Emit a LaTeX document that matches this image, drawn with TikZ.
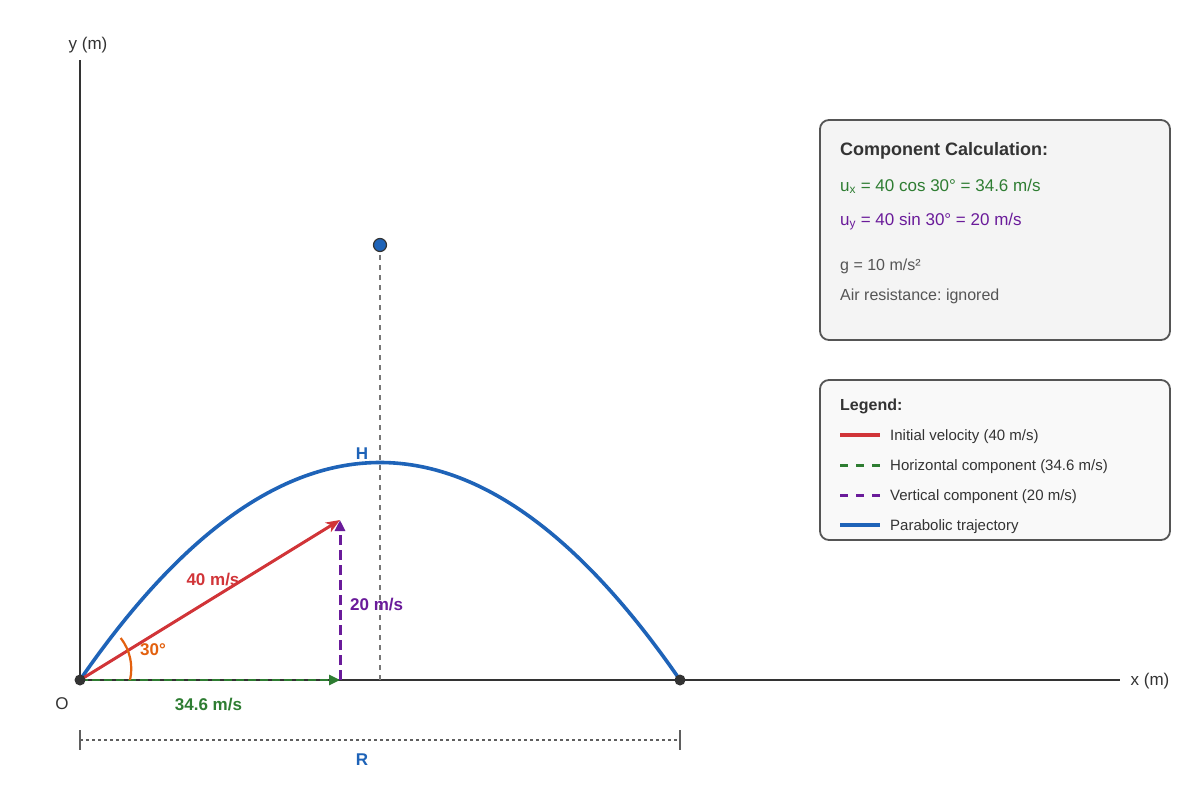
\documentclass[tikz,border=0pt]{standalone}
\usepackage{fontspec}
\setmainfont{Liberation Sans}
\usetikzlibrary{arrows.meta,calc}
\definecolor{TrajBlue}{HTML}{1E63B8}
\definecolor{VelRed}{HTML}{D13438}
\definecolor{HorGreen}{HTML}{2E7D32}
\definecolor{VerPurple}{HTML}{6A1B9A}
\definecolor{AngOrange}{HTML}{E3600E}
\definecolor{AxisGray}{HTML}{333333}
\definecolor{GuideGray}{HTML}{777777}
\definecolor{NoteGray}{HTML}{555555}
\definecolor{CalcFill}{HTML}{F4F4F4}
\definecolor{LegFill}{HTML}{F9F9F9}
\tikzset{
    axisline/.style = {draw=AxisGray, line width=2.6pt},
    axlabel/.style = {font=\fontsize{17}{20}\selectfont, text=AxisGray, inner sep=0pt},
    vlabel/.style = {font=\fontsize{17}{20}\selectfont\bfseries, inner sep=0pt},
    traj/.style = {draw=TrajBlue, line width=3.6pt},
    velo/.style = {draw=VelRed, line width=3pt, -{Stealth[length=14pt,width=11pt,inset=4pt]}},
    horiz/.style = {draw=HorGreen, line width=2.6pt, dash pattern=on 8pt off 4pt, -{Triangle[length=11pt,width=10pt]}},
    vert/.style = {draw=VerPurple, line width=3pt, dash pattern=on 10pt off 5pt, -{Triangle[length=11pt,width=10pt]}},
    guide/.style = {draw=GuideGray, line width=2pt, dash pattern=on 5pt off 5pt},
    dimline/.style = {draw=GuideGray!80!black, line width=1.8pt, dash pattern=on 3pt off 3pt},
    dimtick/.style = {draw=GuideGray!80!black, line width=1.8pt},
    enddot/.style = {circle, fill=AxisGray, inner sep=0pt, minimum size=11pt},
    ctrldot/.style = {circle, fill=TrajBlue, draw=AxisGray, line width=1.2pt, inner sep=0pt, minimum size=13pt},
    infobox/.style = {draw=NoteGray, line width=1.8pt, rounded corners=9pt},
    boxtitle/.style = {font=\fontsize{18}{22}\selectfont\bfseries, text=AxisGray, anchor=base west, inner sep=0pt},
    calctext/.style = {font=\fontsize{17}{20}\selectfont, anchor=base west, inner sep=0pt},
    notetext/.style = {font=\fontsize{16}{19}\selectfont, text=NoteGray, anchor=base west, inner sep=0pt},
    legtitle/.style = {font=\fontsize{16}{19}\selectfont\bfseries, text=AxisGray, anchor=base west, inner sep=0pt},
    legtext/.style = {font=\fontsize{15}{18}\selectfont, text=AxisGray, anchor=base west, inner sep=0pt},
    legline/.style = {line width=3.6pt}
}
\frenchspacing

\begin{document}
\begin{tikzpicture}[x=1pt,y=-1pt]
    \useasboundingbox[fill=white] (0,0) rectangle (1200,800);
    % axes
    \coordinate (O) at (80,680);
    \coordinate (Ytop) at (80,60);
    \coordinate (Xend) at (1120,680);
    \draw[axisline] (O) -- (Ytop);
    \draw[axisline] (O) -- (Xend);
    \node[axlabel, anchor=base] (ylab) at (88,50) {y (m)};
    \node[axlabel, anchor=base] (xlab) at (1150,685) {x (m)};
    \node[axlabel, anchor=base] (olab) at (62,709) {O};
    % trajectory and its control point
    \coordinate (Land) at (680,680);
    \coordinate (Foot) at (380,680);
    \draw[guide] (380,245) -- (Foot);
    \draw[traj] (O) .. controls (280,390) and (480,390) .. (Land);
    \node[ctrldot] (ctrl) at (380,245) {};
    \node[vlabel, text=TrajBlue, anchor=base] (hlab) at (362,459) {H};
    % velocity and components
    \coordinate (Tip) at (340,520);
    \coordinate (Base) at (340,680);
    \draw[horiz] (O) -- (Base);
    \draw[vert] (Base) -- (Tip);
    \draw[velo] (O) -- (Tip);
    \draw[AngOrange, line width=2.2pt] (130,680) arc[start angle=13, end angle=-38, radius=50];
    \node[vlabel, text=VelRed, anchor=base] (vlab) at (213,585) {40 m/s};
    \node[vlabel, text=VerPurple, anchor=base west] (uylab) at (350,610) {20 m/s};
    \node[vlabel, text=HorGreen, anchor=base] (uxlab) at (208.5,710) {34.6 m/s};
    \node[vlabel, text=AngOrange, anchor=base west] (anglab) at (140,655) {30°};
    \node[enddot] (odot) at (O) {};
    \node[enddot] (ldot) at (Land) {};
    % range
    \coordinate (R1) at (80,740);
    \coordinate (R2) at (680,740);
    \draw[dimline] (R1) -- (R2);
    \draw[dimtick] ($(R1)+(0,-10)$) -- ($(R1)+(0,10)$);
    \draw[dimtick] ($(R2)+(0,-10)$) -- ($(R2)+(0,10)$);
    \node[vlabel, text=TrajBlue, anchor=base] (rlab) at (362,765) {R};
    % component calculation box
    \draw[infobox, fill=CalcFill] (820,120) rectangle (1170,340);
    \node[boxtitle] (calctitle) at (840,155.5) {Component Calculation:};
    \node[calctext, text=HorGreen] (calcx) at (840,191) {u\textsubscript{x} = 40 cos 30° = 34.6 m/s};
    \node[calctext, text=VerPurple] (calcy) at (840,225) {u\textsubscript{y} = 40 sin 30° = 20 m/s};
    \node[notetext] (grav) at (840,270) {g = 10 m/s²};
    \node[notetext] (air) at (840,300) {Air resistance: ignored};
    % legend
    \draw[infobox, fill=LegFill] (820,380) rectangle (1170,540);
    \node[legtitle] (legtitle) at (840,410) {Legend:};
    \draw[legline, VelRed] (840,435) -- (880,435);
    \draw[legline, HorGreen, line width=3pt, dash pattern=on 8pt off 8pt] (840,465) -- (880,465);
    \draw[legline, VerPurple, line width=3pt, dash pattern=on 8pt off 8pt] (840,495) -- (880,495);
    \draw[legline, TrajBlue] (840,525) -- (880,525);
    \node[legtext] (leg1) at (890,440.5) {Initial velocity (40 m/s)};
    \node[legtext] (leg2) at (890,470.5) {Horizontal component (34.6 m/s)};
    \node[legtext] (leg3) at (890,500.5) {Vertical component (20 m/s)};
    \node[legtext] (leg4) at (890,530.5) {Parabolic trajectory};
\end{tikzpicture}
\end{document}
